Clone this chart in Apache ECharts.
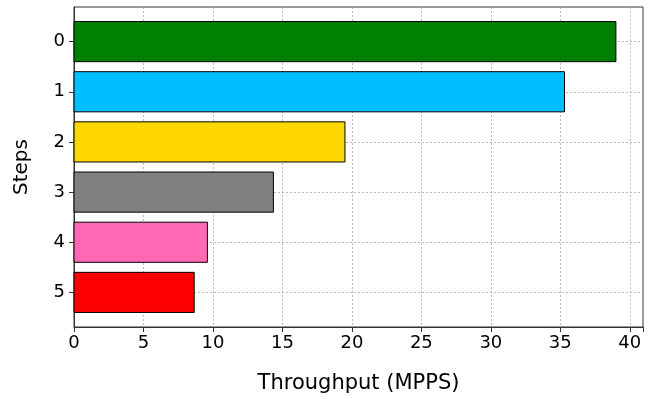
<!DOCTYPE html>
<html><head><meta charset="utf-8">
<script src="https://cdn.jsdelivr.net/npm/echarts@6/dist/echarts.min.js"></script>
<style>html,body{margin:0;padding:0;background:#fff}#c{width:655px;height:399px}</style>
</head><body><div id="c"></div>
<script>
var categories = ['0','1','2','3','4','5'];
var values = [39.0, 35.3, 19.5, 14.35, 9.6, 8.65];
var colors = ['#008000','#00BFFF','#FFD700','#808080','#FF69B4','#FF0000'];
var xTicks = [0,5,10,15,20,25,30,35,40];
var catPos = [0,1,2,3,4,5];
var barHeight = 0.8;

var chart = echarts.init(document.getElementById('c'), null, {renderer:'canvas'});
var font = 'DejaVu Sans';
chart.setOption({
  animation:false,
  grid:{left:74,right:12,top:7,bottom:71,show:true,borderColor:'#333',borderWidth:1,containLabel:false},
  xAxis:{type:'value',min:0,max:40.95,interval:5,
    name:'Throughput (MPPS)',nameLocation:'middle',nameGap:46,
    nameTextStyle:{fontFamily:font,fontSize:21,color:'#000'},
    axisLine:{show:true,onZero:false,lineStyle:{color:'#333'}},
    axisTick:{show:true,length:5,inside:false,lineStyle:{color:'#333'}},
    axisLabel:{fontFamily:font,fontSize:18,color:'#000',margin:7,
      formatter:function(v){return xTicks.indexOf(v)>=0?String(v):'';}},
    splitLine:{show:true,lineStyle:{color:'#aaa',type:[2,2],width:0.8}}},
  yAxis:{type:'value',inverse:true,min:-0.69,max:5.69,
    name:'Steps',nameLocation:'middle',nameGap:42,
    nameTextStyle:{fontFamily:font,fontSize:20,color:'#000'},
    axisLine:{show:true,lineStyle:{color:'#333'}},
    axisTick:{show:true,length:5,customValues:catPos,lineStyle:{color:'#333'}},
    axisLabel:{fontFamily:font,fontSize:18,color:'#000',margin:9,customValues:catPos,
      formatter:function(v){return categories[Math.round(v)];}},
    splitLine:{show:true,lineStyle:{color:'#aaa',type:[2,2],width:0.8}}},
  series:[{type:'custom',
    data:values.map(function(v,i){return [v,i];}),
    encode:{x:0,y:1},
    renderItem:function(params,api){
      var v=api.value(0), i=api.value(1);
      var p0=api.coord([0,i]), p1=api.coord([v,i]);
      var h=Math.abs(api.size([0,barHeight])[1]);
      return {type:'rect',shape:{x:p0[0],y:p0[1]-h/2,width:p1[0]-p0[0],height:h},
        style:{fill:colors[params.dataIndex],stroke:'#000',lineWidth:1}};
    }}]
});
</script></body></html>
